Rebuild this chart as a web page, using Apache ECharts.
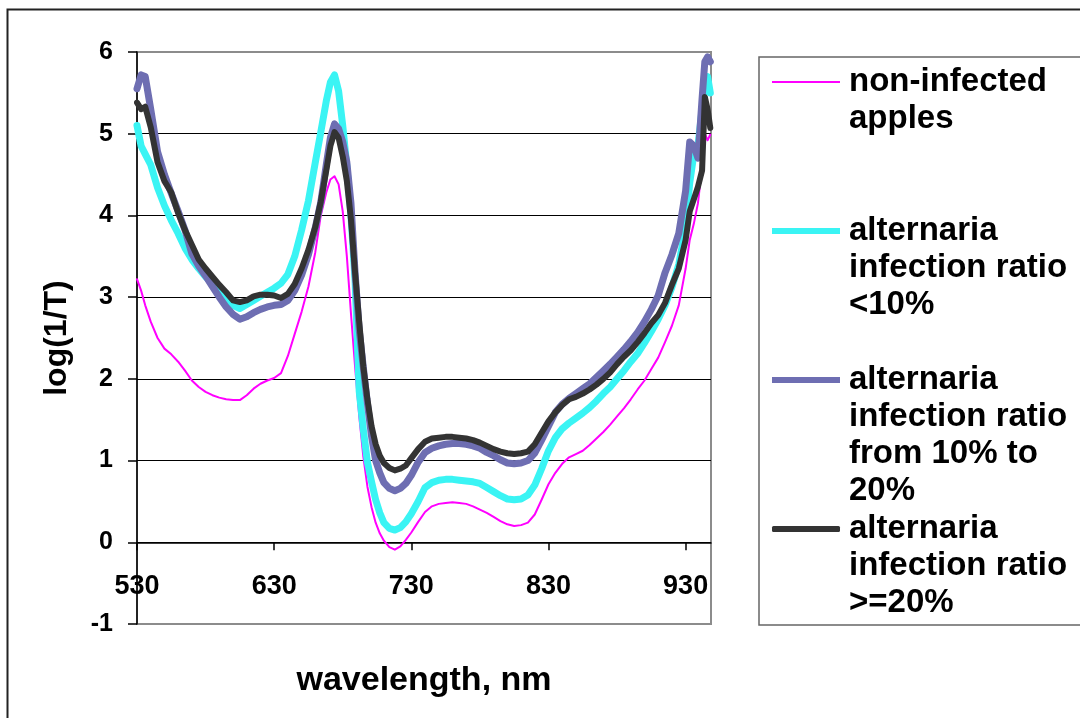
<!DOCTYPE html>
<html>
<head>
<meta charset="utf-8">
<script src="https://cdn.jsdelivr.net/npm/echarts@6/dist/echarts.min.js"></script>
<style>
html,body{margin:0;padding:0;background:#fff;}
#chart{width:1080px;height:718px;}
</style>
</head>
<body>
<div id="chart"></div>
<script>
// ---- data ----
const wavelengths = [530,533,536,540,545,550,555,560,565,570,575,580,585,590,595,600,605,610,615,620,625,630,635,640,645,650,655,660,
  664,668,671,674,677,680,683,686,689,692,695,698,701,704,707,710,714,718,722,726,
  730,735,740,745,750,755,760,765,770,775,780,785,790,795,800,805,810,815,820,825,830,835,840,845,850,855,860,865,870,875,880,885,890,895,900,905,910,915,920,925,930,
  933,936,939,942,944,946,948];

const nonInfected = [3.22,3.08,2.90,2.70,2.50,2.37,2.30,2.21,2.10,1.98,1.90,1.84,1.80,1.77,1.75,1.74,1.74,1.80,1.88,1.94,1.98,2.01,2.07,2.28,2.55,2.82,3.13,3.55,
  4.00,4.28,4.44,4.48,4.38,4.05,3.50,2.80,2.15,1.55,1.05,0.68,0.43,0.24,0.11,0.02,-0.06,-0.09,-0.05,0.03,
  0.12,0.25,0.37,0.44,0.47,0.48,0.49,0.48,0.47,0.44,0.40,0.36,0.31,0.26,0.22,0.20,0.21,0.24,0.34,0.52,0.71,0.85,0.96,1.04,1.08,1.12,1.19,1.27,1.35,1.44,1.54,1.64,1.75,1.87,1.98,2.12,2.26,2.45,2.65,2.90,3.35,
  3.70,3.90,4.15,4.60,5.00,4.92,4.99];

const ratioBelow10 = [5.10,4.85,4.75,4.62,4.34,4.12,3.94,3.78,3.60,3.46,3.35,3.25,3.17,3.07,2.98,2.90,2.86,2.91,2.96,3.01,3.06,3.11,3.17,3.28,3.50,3.82,4.18,4.65,
  5.02,5.40,5.63,5.72,5.52,5.10,4.60,4.00,3.20,1.85,1.38,0.98,0.74,0.52,0.36,0.24,0.17,0.15,0.18,0.25,
  0.35,0.50,0.67,0.73,0.76,0.77,0.77,0.76,0.75,0.74,0.72,0.67,0.62,0.57,0.53,0.52,0.53,0.58,0.70,0.90,1.12,1.28,1.39,1.46,1.52,1.58,1.65,1.73,1.82,1.90,2.00,2.10,2.21,2.31,2.44,2.58,2.73,2.90,3.12,3.40,3.85,
  4.40,4.75,4.85,5.30,5.60,5.70,5.50];

const ratio10to20 = [5.55,5.72,5.70,5.30,4.78,4.50,4.27,4.05,3.82,3.53,3.38,3.26,3.13,3.00,2.88,2.79,2.73,2.76,2.81,2.85,2.88,2.90,2.91,2.96,3.08,3.27,3.52,3.85,
  4.16,4.62,4.95,5.12,5.06,4.90,4.65,4.15,3.30,2.60,2.14,1.70,1.30,1.00,0.85,0.73,0.66,0.63,0.66,0.72,
  0.82,0.98,1.10,1.15,1.18,1.20,1.21,1.21,1.20,1.18,1.15,1.10,1.06,1.01,0.97,0.96,0.97,1.00,1.09,1.25,1.42,1.59,1.69,1.76,1.82,1.88,1.94,2.02,2.10,2.18,2.27,2.36,2.46,2.57,2.70,2.85,3.02,3.30,3.52,3.78,4.30,
  4.90,4.85,4.70,5.43,5.88,5.94,5.88];

const ratioAbove20 = [5.38,5.30,5.33,5.08,4.65,4.42,4.28,4.03,3.82,3.64,3.46,3.35,3.25,3.15,3.06,2.96,2.94,2.96,3.01,3.03,3.03,3.02,2.99,3.04,3.16,3.35,3.58,3.86,
  4.17,4.55,4.85,5.02,4.95,4.72,4.42,3.95,3.30,2.70,2.15,1.75,1.42,1.20,1.06,0.97,0.91,0.88,0.90,0.94,
  1.03,1.14,1.23,1.27,1.28,1.29,1.29,1.28,1.27,1.25,1.22,1.18,1.14,1.11,1.09,1.08,1.09,1.11,1.20,1.34,1.48,1.59,1.68,1.75,1.78,1.82,1.87,1.93,2.00,2.08,2.18,2.27,2.35,2.45,2.56,2.68,2.78,2.93,3.15,3.35,3.70,
  4.05,4.20,4.35,4.55,5.45,5.30,5.07];

const seriesNames = [
  'non-infected apples',
  'alternaria infection ratio <10%',
  'alternaria infection ratio from 10% to 20%',
  'alternaria infection ratio >=20%'
];
const legendLabels = [
  'non-infected\napples',
  'alternaria\ninfection ratio\n<10%',
  'alternaria\ninfection ratio\nfrom 10% to\n20%',
  'alternaria\ninfection ratio\n>=20%'
];
const xTickLabels = [530, 630, 730, 830, 930];
const yMin = -1, yMax = 6;

// ---- styling ----
const FONT = "'Liberation Sans', Arial, sans-serif";
const seriesValues = [nonInfected, ratioBelow10, ratio10to20, ratioAbove20];
const colors = ['#ff00ff', '#3af4f4', '#6e6eb2', '#333333'];
const widths = [2, 7, 7, 6];
const legendIconH = [2, 6, 6, 6];
const legendIconShape = ['rect', 'rect', 'rect', 'roundRect'];
const legendIconY = [82, 231, 380, 529];
const LH = 37;

const series = seriesValues.map((vals, i) => ({
  name: seriesNames[i],
  type: 'line',
  data: wavelengths.map((w, k) => [w, vals[k]]),
  symbol: 'none',
  showSymbol: false,
  lineStyle: { color: colors[i], width: widths[i], join: 'round', cap: 'round' },
  itemStyle: { color: colors[i] },
  z: 2 + i,
  animation: false
}));

const legends = legendLabels.map((lab, i) => {
  const n = lab.split('\n').length;
  const total = 2 * n - 1;
  return {
    orient: 'vertical',
    left: 772,
    top: legendIconY[i] - total * LH / 2,
    padding: 0,
    icon: legendIconShape[i],
    itemWidth: 68,
    itemHeight: legendIconH[i],
    itemGap: 0,
    selectedMode: false,
    data: [seriesNames[i]],
    formatter: () => '\n'.repeat(n - 1) + lab,
    textStyle: {
      fontFamily: FONT, fontWeight: 'bold', fontSize: 33, lineHeight: LH,
      color: '#000', padding: [0, 0, 0, 4]
    }
  };
});

const chart = echarts.init(document.getElementById('chart'), null, { renderer: 'canvas' });
chart.setOption({
  backgroundColor: '#ffffff',
  animation: false,
  grid: {
    left: 137, top: 52, width: 574, height: 572,
    show: true, borderColor: '#8c8c8c', borderWidth: 2, backgroundColor: '#fff',
    containLabel: false, outerBoundsMode: 'none'
  },
  xAxis: {
    type: 'value', min: 530, max: 948.5,
    axisLine: { show: true, onZero: true, lineStyle: { color: '#000', width: 1.5 } },
    axisTick: { show: true, customValues: xTickLabels, length: 8, lineStyle: { color: '#000', width: 1.5 } },
    axisLabel: {
      customValues: xTickLabels, margin: -51,
      fontFamily: FONT, fontWeight: 'bold', fontSize: 27, color: '#000'
    },
    splitLine: { show: false },
    name: 'wavelength, nm', nameLocation: 'middle', nameGap: 40, nameMoveOverlap: false,
    nameTextStyle: { fontFamily: FONT, fontWeight: 'bold', fontSize: 34, color: '#000' }
  },
  yAxis: {
    type: 'value', min: yMin, max: yMax, interval: 1,
    axisLine: { show: true, onZero: false, lineStyle: { color: '#000', width: 1.5 } },
    axisTick: { show: true, length: 9, lineStyle: { color: '#000', width: 1.5 } },
    axisLabel: { margin: 24, fontFamily: FONT, fontWeight: 'bold', fontSize: 25, color: '#000' },
    splitLine: { show: true, showMinLine: false, showMaxLine: false, lineStyle: { color: '#000', width: 1 } },
    name: 'log(1/T)', nameLocation: 'middle', nameGap: 64, nameRotate: 90,
    nameTextStyle: { fontFamily: FONT, fontWeight: 'bold', fontSize: 32, color: '#000' }
  },
  legend: legends,
  graphic: [
    { type: 'rect', shape: { x: 7.5, y: 9.5, width: 1100, height: 740 },
      style: { fill: 'none', stroke: '#222', lineWidth: 2 }, silent: true, z: -1 },
    { type: 'rect', shape: { x: 759, y: 57, width: 340, height: 568 },
      style: { fill: 'none', stroke: '#666', lineWidth: 1.5 }, silent: true }
  ],
  series: series
});
</script>
</body>
</html>
